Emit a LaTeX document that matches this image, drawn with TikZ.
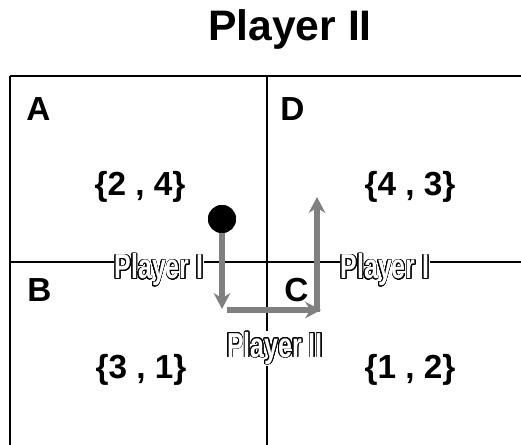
\documentclass[tikz,border=0pt]{standalone}
\usepackage{fontspec}
\setmainfont{Liberation Sans}
\newfontfamily\condfont[FakeStretch=0.72]{Liberation Sans}
\usepackage{contour}
\contourlength{0.6pt}
\contournumber{24}
\usetikzlibrary{arrows.meta}
\definecolor{arrowgray}{HTML}{808080}
\tikzset{
  grid/.style={line width=1.1pt, black},
  bigtxt/.style={inner sep=0pt, font=\fontsize{25pt}{29pt}\selectfont\bfseries},
  titletxt/.style={inner sep=0pt, font=\fontsize{32pt}{38pt}\selectfont\bfseries},
  outl/.style={inner xsep=0.5pt, inner ysep=1pt, fill=white, font=\condfont\fontsize{26pt}{30pt}\selectfont\bfseries},
  move/.style={line width=3.8pt, arrowgray, -{Stealth[length=12pt,width=12.5pt,inset=4pt]}},
  stone/.style={circle, fill=black, inner sep=0pt, minimum size=21pt}
}
\newcommand{\outlinedtext}[1]{{\color{white}\contour{black}{#1}}}
\begin{document}
\begin{tikzpicture}[x=0.75pt,y=-0.75pt]
\useasboundingbox (0,0) rectangle (521,445);
% grid
\coordinate (tl) at (10,76);
\coordinate (tm) at (267,76);
\coordinate (tr) at (521,76);
\coordinate (bl) at (10,445);
\coordinate (bm) at (267,445);
\coordinate (ml) at (10,262);
\coordinate (mr) at (521,262);
\draw[grid] (tl) -- (tr);
\draw[grid] (ml) -- (mr);
\draw[grid] (tl) -- (bl);
\draw[grid] (tm) -- (bm);
% title
\node[titletxt, anchor=base] (title) at (290,41) {Player II};
% cell letters
\node[bigtxt, anchor=base west] (A) at (26,121) {A};
\node[bigtxt, anchor=base west] (D) at (280,121) {D};
\node[bigtxt, anchor=base west] (B) at (27,301) {B};
\node[bigtxt, anchor=base west] (C) at (284,301) {C};
% payoffs
\node[bigtxt, anchor=base] (pA) at (140,196) {\{2 , 4\}};
\node[bigtxt, anchor=base] (pD) at (410,196) {\{4 , 3\}};
\node[bigtxt, anchor=base] (pB) at (141,378) {\{3 , 1\}};
\node[bigtxt, anchor=base] (pC) at (410,378) {\{1 , 2\}};
% moves
\node[stone] (dot) at (222,219) {};
\coordinate (m1end) at (222,309);
\coordinate (m2start) at (227,310);
\coordinate (m2end) at (321,310);
\coordinate (m3start) at (317,312);
\coordinate (m3end) at (317,197);
\draw[move] (dot.center) -- (m1end);
\draw[move] (m2start) -- (m2end);
\draw[move] (m3start) -- (m3end);
\node[stone] at (dot) {};
% outlined labels
\node[outl, anchor=base] (l1) at (159,279) {\outlinedtext{Player I}};
\node[outl, anchor=base] (l2) at (385,279) {\outlinedtext{Player I}};
\node[outl, anchor=base] (l3) at (275,357) {\outlinedtext{Player II}};
\end{tikzpicture}
\end{document}
